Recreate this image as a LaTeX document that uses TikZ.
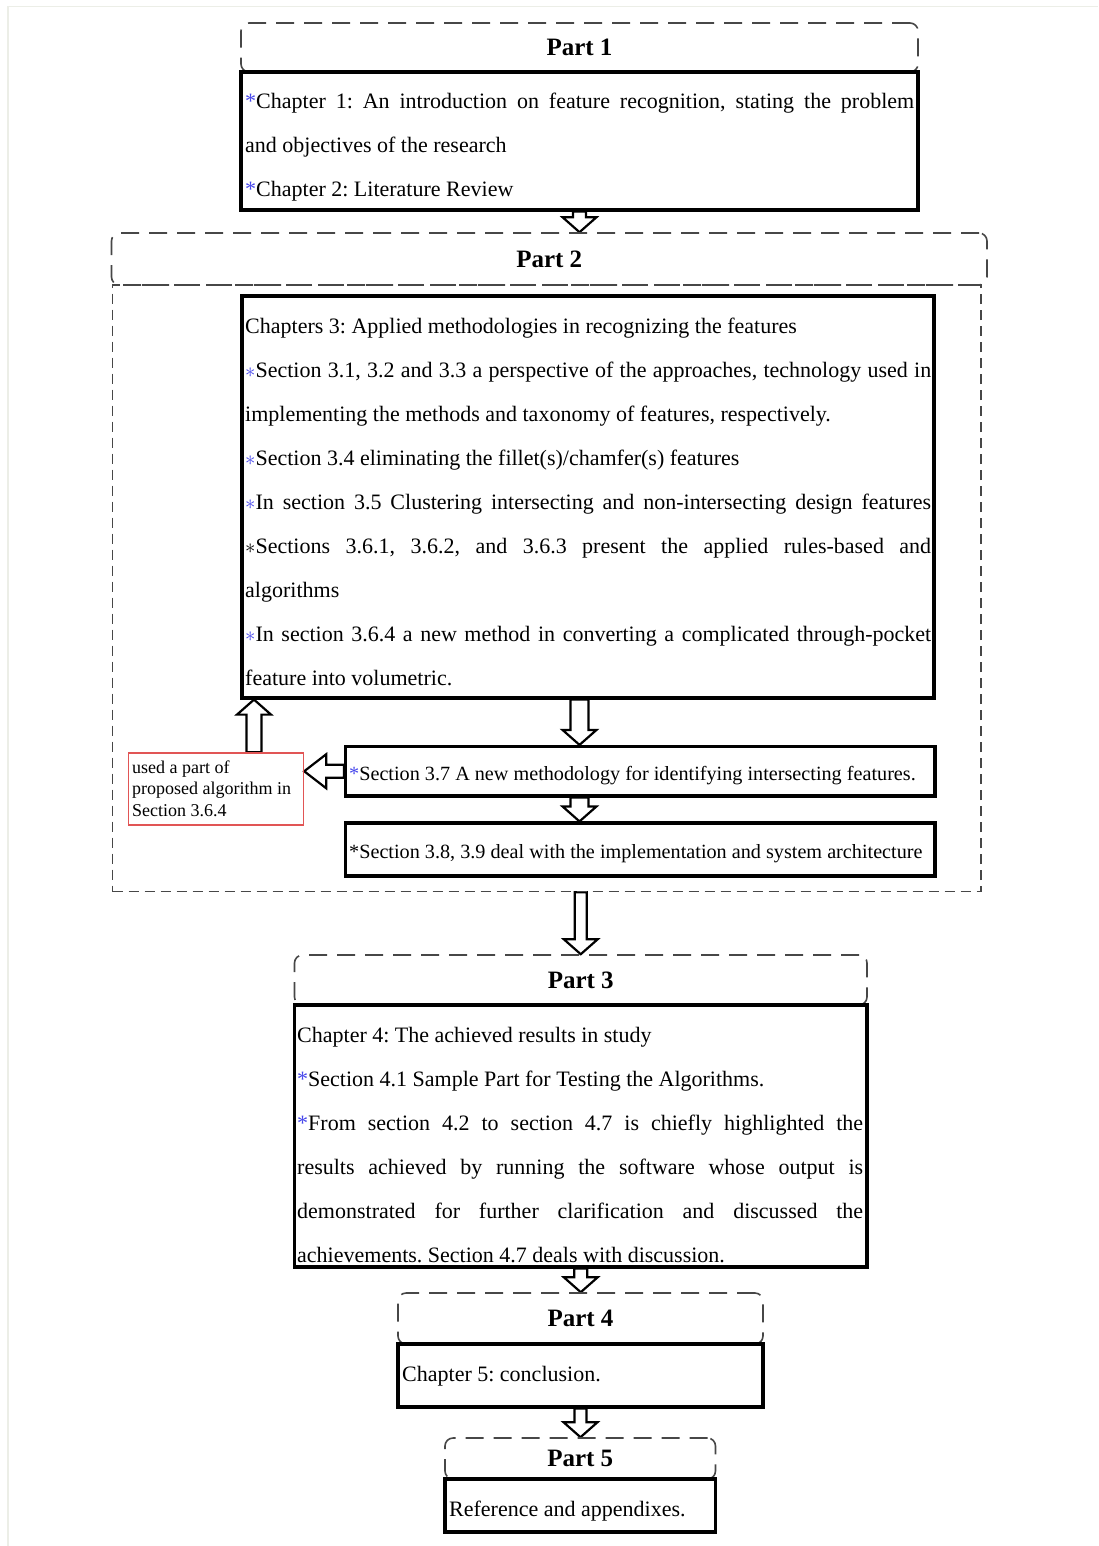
\documentclass[tikz,border=0pt]{standalone}
\usepackage{fontspec}
\setmainfont{Liberation Serif}
\usetikzlibrary{calc,backgrounds}
\definecolor{starblue}{RGB}{70,70,235}
\definecolor{notered}{RGB}{225,85,85}
\definecolor{edgegray}{RGB}{236,238,231}
\newcommand{\bst}{{\color{starblue}*}}
\newcommand{\bmst}{{\color{starblue}$\ast$}}
\newcommand{\mst}{$\ast$}
\newcommand{\jl}[1]{\makebox[\linewidth][s]{#1}}
% vertical block arrow: from, to, half shaft width
\newcommand{\varrow}[3]{%
 \draw[barrow] let \p1=(#1), \p2=(#2), \n1={(\y2-\y1)/abs(\y2-\y1)} in
  (\x1-#3,\y1) -- (\x1-#3,{\y2-\n1*15pt}) -- (\x1-17pt,{\y2-\n1*15pt}) -- (\x1,\y2)
  -- (\x1+17pt,{\y2-\n1*15pt}) -- (\x1+#3,{\y2-\n1*15pt}) -- (\x1+#3,\y1) -- cycle;}
% horizontal block arrow: from, to, half shaft width, head length
\newcommand{\harrow}[4]{%
 \draw[barrow] let \p1=(#1), \p2=(#2), \n1={(\x2-\x1)/abs(\x2-\x1)} in
  (\x1,\y1-#3) -- ({\x2-\n1*#4},\y1-#3) -- ({\x2-\n1*#4},\y1-17pt) -- (\x2,\y1)
  -- ({\x2-\n1*#4},\y1+17pt) -- ({\x2-\n1*#4},\y1+#3) -- (\x1,\y1+#3) -- cycle;}
\frenchspacing
\begin{document}
\begin{tikzpicture}[x=1pt,y=-1pt,
  hdr/.style={draw=black!72, line width=1.6pt, dash pattern=on 18pt off 10pt,
    rounded corners=8pt, inner sep=0pt, font=\fontsize{25}{28}\selectfont\bfseries},
  chap/.style={draw=black, line width=3.2pt, inner sep=0pt},
  cont/.style={draw=black!72, line width=1.5pt, dash pattern=on 10pt off 6pt, inner sep=0pt},
  note/.style={draw=notered, line width=1.4pt, inner sep=0pt},
  txt/.style={anchor=base west, inner sep=0pt, font=\fontsize{22}{44}\selectfont\frenchspacing},
  stxt/.style={anchor=base west, inner sep=0pt, font=\fontsize{20.2}{24}\selectfont\frenchspacing},
  ntxt/.style={anchor=base west, inner sep=0pt, font=\fontsize{18}{21.5}\selectfont\frenchspacing},
  barrow/.style={draw=black, line width=2.2pt, fill=white, line join=miter}
]
\useasboundingbox (0,0) rectangle (1098,1546);
\draw[edgegray, line width=1.8pt] (8,1546) -- (8,6.5) -- (1098,6.5);

% containers and boxes
\node[cont, minimum width=868.5pt, minimum height=606.5pt] (c2) at (546.75,588.25) {};
\node[hdr, minimum width=677pt, minimum height=49pt] (h1) at (579.5,47.5) {Part 1};
\node[chap, minimum width=677pt, minimum height=138pt] (b1) at (579.5,141) {};
\node[hdr, minimum width=875.5pt, minimum height=52pt] (h2) at (549.25,259) {Part 2};
\node[chap, minimum width=692pt, minimum height=402pt] (b2) at (588,497) {};
\node[chap, minimum width=589.5pt, minimum height=49.5pt] (b37) at (640.25,771.25) {};
\node[note, minimum width=175pt, minimum height=72pt] (red) at (216,789) {};
\node[chap, minimum width=589.5pt, minimum height=53pt] (b38) at (640.25,849.5) {};
\node[hdr, minimum width=572.5pt, minimum height=50pt] (h3) at (580.75,980) {Part 3};
\node[chap, minimum width=572.5pt, minimum height=262pt] (b3) at (580.75,1136) {};
\node[hdr, minimum width=365pt, minimum height=51pt] (h4) at (580.5,1318.5) {Part 4};
\node[chap, minimum width=365pt, minimum height=63pt] (b4) at (580.5,1375.5) {};
\node[hdr, minimum width=270.5pt, minimum height=41pt] (h5) at (580.25,1458.5) {Part 5};
\node[chap, minimum width=270.5pt, minimum height=53pt] (b5) at (580.25,1505.5) {};

% texts
\node[txt] (t1) at (245,109) {\parbox[t]{669pt}{%
  \jl{\bst Chapter 1: An introduction on feature recognition, stating the problem}\\
  and objectives of the research\\
  \bst Chapter 2: Literature Review}};
\node[txt] (t2) at (245,333) {\parbox[t]{686pt}{%
  Chapters 3: Applied methodologies in recognizing the features\\
  \jl{\bmst Section 3.1, 3.2 and 3.3 a perspective of the approaches, technology used in}\\
  implementing the methods and taxonomy of features, respectively.\\
  \bmst Section 3.4 eliminating the fillet(s)/chamfer(s) features\\
  \jl{\bmst In section 3.5 Clustering intersecting and non-intersecting design features}\\
  \jl{\mst Sections 3.6.1, 3.6.2, and 3.6.3 present the applied rules-based and}\\
  algorithms\\
  \jl{\bmst In section 3.6.4 a new method in converting a complicated through-pocket}\\
  feature into volumetric.}};
\node[stxt] (t37) at (349,780) {\bst Section 3.7 A new methodology for identifying intersecting features.};
\node[stxt] (t38) at (349,858) {*Section 3.8, 3.9 deal with the implementation and system architecture};
\node[ntxt] (tr) at (132,773) {\parbox[t]{170pt}{used a part of\\ proposed algorithm in\\ Section 3.6.4}};
\node[txt] (t3) at (297,1042) {\parbox[t]{566pt}{%
  Chapter 4: The achieved results in study\\
  \bst Section 4.1 Sample Part for Testing the Algorithms.\\
  \jl{\bst From section 4.2 to section 4.7 is chiefly highlighted the}\\
  \jl{results achieved by running the software whose output is}\\
  \jl{demonstrated for further clarification and discussed the}\\
  achievements. Section 4.7 deals with discussion.}};
\node[txt] (t4) at (402,1381) {Chapter 5: conclusion.};
\node[txt] (t5) at (449,1516) {Reference and appendixes.};

% connector end points
\coordinate (a1e) at (h2.north -| b1.south);
\coordinate (a2s) at (b2.south -| b1.south);
\coordinate (a2e) at (b37.north -| b1.south);
\coordinate (a3s) at (b37.south -| b1.south);
\coordinate (a3e) at (b38.north -| b1.south);
\coordinate (a4s) at (c2.south -| h3.north);
\coordinate (a7e) at (red.east |- b37.west);
\coordinate (a8s) at ($(red.north)+(38,0)$);
\coordinate (a8e) at (b2.south -| a8s);

\begin{scope}[on background layer]
\varrow{b1.south}{a1e}{6.5pt}
\varrow{a2s}{a2e}{9pt}
\varrow{a3s}{a3e}{9pt}
\varrow{a4s}{h3.north}{6pt}
\varrow{b3.south}{h4.north}{6.5pt}
\varrow{b4.south}{h5.north}{6pt}
\varrow{a8s}{a8e}{7.5pt}
\harrow{b37.west}{a7e}{6.5pt}{22pt}
\end{scope}
\end{tikzpicture}
\end{document}
